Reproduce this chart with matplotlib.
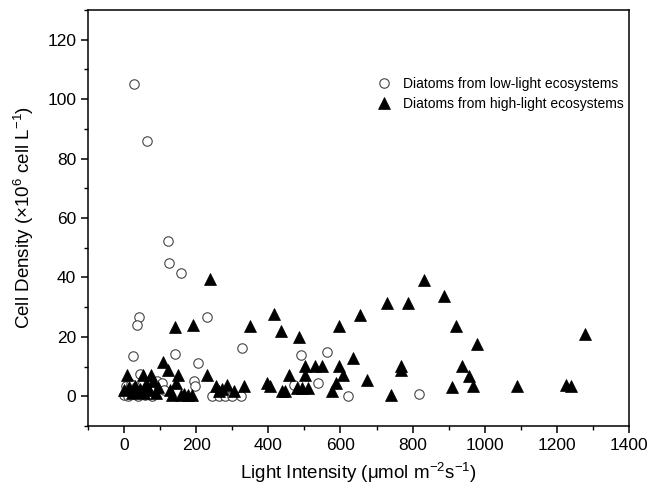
import matplotlib
matplotlib.use("Agg")
import matplotlib.pyplot as plt
from matplotlib.ticker import MultipleLocator

plt.rcParams['font.family'] = ['Liberation Sans', 'DejaVu Sans']
plt.rcParams['mathtext.fontset'] = 'custom'
plt.rcParams['mathtext.rm'] = 'Liberation Sans'
plt.rcParams['mathtext.it'] = 'Liberation Sans:italic'

# === datos: diatomeas de ecosistemas con poca luz (circulos) ===
low_x = [27, 63, 122, 124, 159, 230, 42, 35, 24, 141, 206, 326, 43, 194, 196,
         245, 263, 281, 300, 323, 491, 562, 470, 537, 620, 818,
         0, 5, 10, 14, 20, 27, 33, 40, 46, 52, 58, 65, 72, 78, 85, 92, 98, 105, 110]
low_y = [105.2, 86, 52.4, 44.9, 41.5, 26.8, 26.8, 23.9, 13.4, 14.4, 11.2, 16.4, 7.5, 5, 3.3,
         0, 0, 0, 0, 0, 14, 15, 3.9, 4.5, 0.2, 0.8,
         0.5, 3.5, 0, 2.5, 4, 1, 3, 0, 2, 4.5, 0.5, 3, 1, 0, 2, 5, 3, 4.5, 2]

# === datos: diatomeas de ecosistemas con mucha luz (triangulos) ===
high_x = [238, 141, 190, 350, 417, 436, 484, 596, 653, 730, 786, 832, 887, 919, 979, 1277,
          502, 530, 550, 596, 636, 768, 768, 938,
          456, 502, 607, 673, 957,
          406, 438, 447, 479, 493, 511, 588, 576, 739, 908, 968, 1089, 1226, 1240,
          229, 254, 272, 286, 304, 332, 263, 396,
          0, 9, 52, 74, 108, 121, 150, 143, 134, 157, 189,
          15, 22, 30, 38, 45, 55, 62, 68, 80, 88, 95, 128, 165, 178]
high_y = [39.5, 23.2, 24, 23.6, 27.7, 21.9, 19.9, 23.6, 27.5, 31.4, 31.4, 39, 33.7, 23.6, 17.6, 21.1,
          10.1, 10.1, 10.1, 10.1, 13, 10.3, 9, 10.3,
          7.3, 7.3, 7.3, 5.4, 6.7,
          3.6, 1.9, 1.9, 2.9, 2.8, 2.8, 4.5, 1.9, 0.6, 3, 3.6, 3.6, 3.8, 3.6,
          7.3, 3.4, 2.5, 3.9, 1.7, 3.6, 1.7, 4.6,
          2.2, 7.3, 7.3, 7.3, 11.5, 9, 7.3, 4.5, 0.6, 0.6, 0.5,
          3, 1, 3.5, 1.5, 2.5, 1, 4, 2, 5, 1, 3, 2, 0.8, 0.6]

# === figura ===
fig = plt.figure(figsize=(6.59, 4.90), dpi=100)
ax = fig.add_axes([0.1335, 0.1306, 0.821, 0.849])

ax.plot(low_x, low_y, 'o', ls='none', ms=6.8, mfc='white', mec='#444444', mew=0.8,
        label='Diatoms from low-light ecosystems')
ax.plot(high_x, high_y, '^', ls='none', ms=8.5, mfc='black', mec='black', mew=0.5,
        label='Diatoms from high-light ecosystems')

ax.set_xlim(-100, 1400)
ax.set_ylim(-10, 130)
ax.xaxis.set_major_locator(MultipleLocator(200))
ax.xaxis.set_minor_locator(MultipleLocator(100))
ax.yaxis.set_major_locator(MultipleLocator(20))
ax.yaxis.set_minor_locator(MultipleLocator(10))
ax.set_yticks([0, 20, 40, 60, 80, 100, 120])

for s in ax.spines.values():
    s.set_linewidth(1.1)
ax.tick_params(which='major', direction='out', length=5, width=1.1, labelsize=12.5)
ax.tick_params(which='minor', direction='out', length=3, width=1.0)

ax.set_xlabel('Light Intensity (\u03bcmol m$^{-2}$s$^{-1}$)', fontsize=13.5, labelpad=6)
ax.set_ylabel(r'Cell Density ($\times$10$^{6}$ cell L$^{-1}$)', fontsize=13.5, labelpad=8)

ax.legend(loc='upper left', bbox_to_anchor=(0.505, 0.87), frameon=False, fontsize=10,
          handletextpad=0.6, labelspacing=0.45, handlelength=1.5)

fig.savefig('out.png', dpi=100)
